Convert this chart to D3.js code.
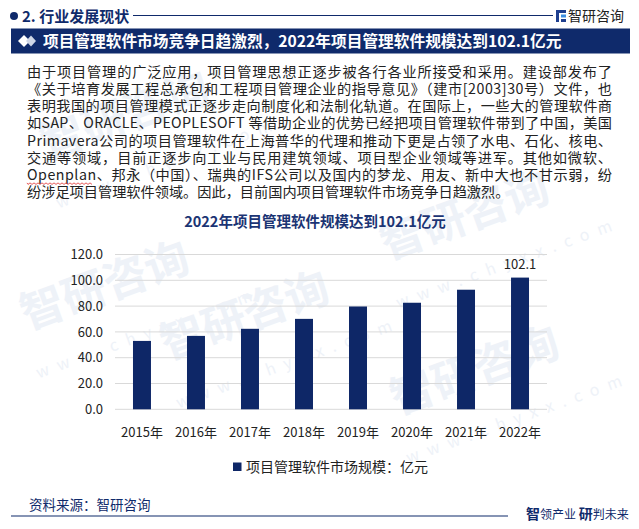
<!DOCTYPE html>
<html><head><meta charset="utf-8">
<script src="https://cdn.jsdelivr.net/npm/d3@7"></script>
<style>body{margin:0;background:#fff}svg{display:block}</style>
</head><body>
<script>
const years = ["2015年","2016年","2017年","2018年","2019年","2020年","2021年","2022年"];
const values = [53.0, 56.9, 62.4, 70.1, 79.7, 82.6, 92.7, 102.1];
const yTicks = [0, 20, 40, 60, 80, 100, 120];
const seriesName = "项目管理软件市场规模：亿元";
const sectionTitle = "2. 行业发展现状";
const bannerTitle = "项目管理软件市场竞争日趋激烈，2022年项目管理软件规模达到102.1亿元";
const chartTitle = "2022年项目管理软件规模达到102.1亿元";
const paragraph = [
 "由于项目管理的广泛应用，项目管理思想正逐步被各行各业所接受和采用。建设部发布了",
 "《关于培育发展工程总承包和工程项目管理企业的指导意见》（建市[2003]30号）文件，也",
 "表明我国的项目管理模式正逐步走向制度化和法制化轨道。在国际上，一些大的管理软件商",
 "如SAP、ORACLE、PEOPLESOFT 等借助企业的优势已经把项目管理软件带到了中国，美国",
 "Primavera公司的项目管理软件在上海普华的代理和推动下更是占领了水电、石化、核电、",
 "交通等领域，目前正逐步向工业与民用建筑领域、项目型企业领域等进军。其他如微软、",
 "Openplan、邦永（中国）、瑞典的IFS公司以及国内的梦龙、用友、新中大也不甘示弱，纷",
 "纷涉足项目管理软件领域。因此，目前国内项目管理软件市场竞争日趋激烈。"
];
const source = "资料来源：智研咨询";

const W = 639, H = 529;
const NAVY = "#0f2a6b", FONT = "'Noto Sans CJK SC','Noto Sans',sans-serif";
const svg = d3.select("body").append("svg").attr("width", W).attr("height", H)
  .style("font-family", FONT);

// watermarks (faint)
const wm = svg.append("g").attr("fill", "#eef2f8");
[[130,130],[250,330],[480,385],[470,230],[110,300]].forEach(([x,y])=>{
  wm.append("text").attr("transform",`translate(${x},${y}) rotate(-20)`)
    .attr("font-size",44).attr("font-weight","bold").attr("text-anchor","middle").text("智研咨询");
  wm.append("text").attr("transform",`translate(${x+40},${y+38}) rotate(-20)`)
    .attr("font-size",16).attr("letter-spacing",9).attr("text-anchor","middle").text("www.chyxx.com");
});

// header
svg.append("circle").attr("cx",14).attr("cy",16).attr("r",4).attr("fill",NAVY);
svg.append("text").attr("x",22).attr("y",21.5).attr("font-size",15).attr("font-weight","bold")
  .attr("fill",NAVY).text(sectionTitle);
svg.append("line").attr("x1",133).attr("x2",553).attr("y1",15.5).attr("y2",15.5)
  .attr("stroke",NAVY).attr("stroke-width",1);
// logo icon
const lg = svg.append("g").attr("transform","translate(556,10)");
lg.append("rect").attr("x",0).attr("y",0).attr("width",10).attr("height",3).attr("fill","#1f3f8f");
lg.append("rect").attr("x",0).attr("y",0).attr("width",3).attr("height",12).attr("fill","#1f3f8f");
lg.append("rect").attr("x",5).attr("y",4.5).attr("width",5).attr("height",3).attr("fill","#3c8de0");
lg.append("rect").attr("x",5).attr("y",9).attr("width",5).attr("height",3).attr("fill","#1f3f8f");
svg.append("text").attr("x",568).attr("y",21).attr("font-size",14).attr("fill","#222").text("智研咨询");

// banner
svg.append("rect").attr("x",11).attr("y",28.5).attr("width",619).attr("height",25).attr("fill",NAVY);
svg.append("path").attr("d","M18,41 L24,35 L30,41 L24,47Z").attr("fill","#fff");
svg.append("path").attr("d","M26,41 L31,35.5 L36,41 L31,46.5Z").attr("fill","#cfd6e6");
svg.append("text").attr("x",43).attr("y",46.5).attr("font-size",15.7).attr("font-weight","bold")
  .attr("fill","#fff").text(bannerTitle);

// paragraph
const LH = 17.15, Y0 = 77;
const pg = svg.append("g").attr("font-size",14.2).attr("fill","#222");
paragraph.forEach((line,i)=>{
  const t = pg.append("text").attr("x",27).attr("y",Y0 + i*LH).text(line);
  if (i < paragraph.length-1) t.attr("textLength",585).attr("lengthAdjust","spacing");
});
// red wavy underline under Openplan
(function(){
  const tmp = pg.append("text").attr("x",0).attr("y",-50).text("Openplan");
  const w = tmp.node().getComputedTextLength(); tmp.remove();
  const by = Y0 + 6*LH + 3;
  let d = "M27,"+by;
  for (let xx=27; xx<27+w; xx+=2) d += ` L${xx+1},${by + (((xx-27)/2)%2?0:1.5)}`;
  svg.append("path").attr("d",d).attr("fill","none").attr("stroke","#e03030").attr("stroke-width",0.8);
})();

// chart title
svg.append("text").attr("x",315).attr("y",227).attr("text-anchor","middle").attr("font-size",14.5)
  .attr("font-weight","bold").attr("fill","#1b3474").text(chartTitle);

// scales
const x = d3.scaleBand().domain(years).range([115,547]).paddingInner(0.667).paddingOuter(0.333);
const y = d3.scaleLinear().domain([0,120]).range([409.3,254.5]);

// grid
svg.append("g").selectAll("line").data(yTicks).join("line")
  .attr("x1",115).attr("x2",547).attr("y1",d=>y(d)).attr("y2",d=>y(d))
  .attr("stroke","#d9d9d9").attr("stroke-width",1);

// y axis
const ya = svg.append("g").attr("transform","translate(103,0)")
  .call(d3.axisLeft(y).tickValues(yTicks).tickFormat(d3.format(".1f")).tickSize(0).tickPadding(0));
ya.select(".domain").remove();
ya.selectAll("text").attr("font-size",13).attr("fill","#222").attr("font-family",FONT);

// x axis
const xa = svg.append("g").attr("transform","translate(0,409.3)")
  .call(d3.axisBottom(x).tickSize(0).tickPadding(18));
xa.select(".domain").remove();
xa.selectAll("text").attr("font-size",13).attr("fill","#222").attr("font-family",FONT);

// bars
svg.append("g").selectAll("rect").data(values).join("rect")
  .attr("x",(d,i)=>x(years[i])).attr("width",x.bandwidth())
  .attr("y",d=>y(d)).attr("height",d=>y(0)-y(d)).attr("fill","#0e2767");

// data label for last bar
svg.append("text").attr("x",x(years[years.length-1])+x.bandwidth()/2).attr("y",y(values[values.length-1])-9)
  .attr("text-anchor","middle").attr("font-size",13).attr("fill","#222").text(values[values.length-1].toFixed(1));

// legend
svg.append("rect").attr("x",233).attr("y",462.5).attr("width",8.5).attr("height",8.5).attr("fill","#0e2767");
svg.append("text").attr("x",246).attr("y",472).attr("font-size",14).attr("fill","#222").text(seriesName);

// footer
svg.append("text").attr("x",29).attr("y",510).attr("font-size",13.5).attr("fill",NAVY).text(source);
svg.append("line").attr("x1",11).attr("x2",508).attr("y1",516).attr("y2",516).attr("stroke",NAVY).attr("stroke-width",1.2);
const ft = svg.append("text").attr("x",526).attr("y",519).attr("fill",NAVY).attr("font-size",12);
ft.append("tspan").attr("font-size",14).attr("font-weight","bold").text("智");
ft.append("tspan").text("领产业 ");
ft.append("tspan").attr("font-size",14).attr("font-weight","bold").text("研");
ft.append("tspan").text("判未来");
</script>
</body></html>
